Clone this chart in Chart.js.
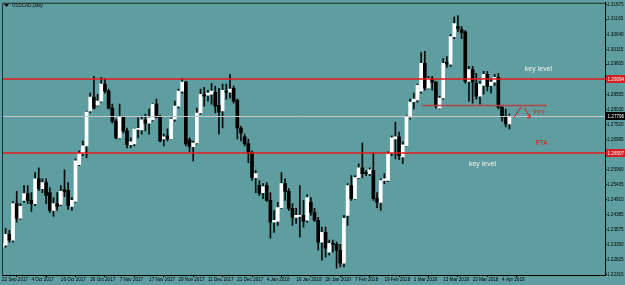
<!DOCTYPE html>
<html>
<head>
<meta charset="utf-8">
<script src="https://cdn.jsdelivr.net/npm/chart.js@4.4.1/dist/chart.umd.min.js"></script>
<style>
  html, body { margin: 0; padding: 0; background: #5f9ea0; }
  #wrap { width: 625px; height: 285px; position: relative; }
</style>
</head>
<body>
<div id="wrap"><canvas id="chart"></canvas></div>
<script>
// USDCAD daily candles, 22 Sep 2017 .. 6 Apr 2018 (one entry per trading day)
const opens = [
  1.2327, 1.2333, 1.2370, 1.2350, 1.2477, 1.2426, 1.2488, 1.2512, 1.2488, 1.2477,
  1.2563, 1.2529, 1.2550, 1.2515, 1.2453, 1.2477, 1.2474, 1.2525, 1.2522, 1.2467,
  1.2484, 1.2612, 1.2650, 1.2677, 1.2798, 1.2846, 1.2818, 1.2832, 1.2891, 1.2867,
  1.2808, 1.2763, 1.2705, 1.2777, 1.2729, 1.2681, 1.2684, 1.2734, 1.2732, 1.2767,
  1.2756, 1.2767, 1.2822, 1.2777, 1.2701, 1.2712, 1.2701, 1.2770, 1.2815, 1.2867,
  1.2898, 1.2698, 1.2674, 1.2687, 1.2791, 1.2856, 1.2853, 1.2856, 1.2863, 1.2818,
  1.2798, 1.2867, 1.2863, 1.2877, 1.2836, 1.2739, 1.2708, 1.2684, 1.2653, 1.2567,
  1.2539, 1.2515, 1.2539, 1.2488, 1.2412, 1.2415, 1.2463, 1.2546, 1.2519, 1.2460,
  1.2429, 1.2432, 1.2436, 1.2419, 1.2481, 1.2446, 1.2419, 1.2343, 1.2377, 1.2308,
  1.2339, 1.2336, 1.2315, 1.2270, 1.2436, 1.2539, 1.2494, 1.2567, 1.2601, 1.2584,
  1.2581, 1.2591, 1.2494, 1.2481, 1.2557, 1.2557, 1.2653, 1.2701, 1.2708, 1.2639,
  1.2677, 1.2777, 1.2830, 1.2836, 1.2867, 1.2963, 1.2877, 1.2911, 1.2898, 1.2808,
  1.2843, 1.2967, 1.2960, 1.3056, 1.3091, 1.3080, 1.3073, 1.2901, 1.2942, 1.2894,
  1.2849, 1.2887, 1.2925, 1.2887, 1.2898, 1.2915, 1.2811, 1.2780, 1.2753
];
const highs = [
  1.2357, 1.2391, 1.2384, 1.2484, 1.2519, 1.2477, 1.2539, 1.2539, 1.2515, 1.2584,
  1.2601, 1.2563, 1.2563, 1.2532, 1.2498, 1.2515, 1.2539, 1.2594, 1.2550, 1.2498,
  1.2632, 1.2660, 1.2694, 1.2798, 1.2860, 1.2918, 1.2856, 1.2915, 1.2911, 1.2874,
  1.2822, 1.2770, 1.2822, 1.2780, 1.2739, 1.2705, 1.2739, 1.2774, 1.2780, 1.2787,
  1.2805, 1.2825, 1.2839, 1.2784, 1.2718, 1.2736, 1.2774, 1.2832, 1.2874, 1.2911,
  1.2901, 1.2705, 1.2694, 1.2808, 1.2874, 1.2880, 1.2870, 1.2894, 1.2884, 1.2877,
  1.2891, 1.2891, 1.2925, 1.2884, 1.2839, 1.2746, 1.2718, 1.2701, 1.2660, 1.2591,
  1.2557, 1.2546, 1.2550, 1.2515, 1.2453, 1.2481, 1.2584, 1.2563, 1.2529, 1.2477,
  1.2460, 1.2539, 1.2488, 1.2508, 1.2498, 1.2460, 1.2429, 1.2395, 1.2395, 1.2350,
  1.2350, 1.2343, 1.2336, 1.2436, 1.2546, 1.2574, 1.2574, 1.2615, 1.2687, 1.2591,
  1.2601, 1.2653, 1.2515, 1.2563, 1.2581, 1.2656, 1.2712, 1.2760, 1.2725, 1.2691,
  1.2784, 1.2839, 1.2860, 1.2891, 1.3001, 1.3005, 1.2918, 1.2918, 1.2901, 1.2849,
  1.2980, 1.2987, 1.3063, 1.3125, 1.3129, 1.3091, 1.3077, 1.2953, 1.2953, 1.2929,
  1.2901, 1.2936, 1.2936, 1.2908, 1.2925, 1.2929, 1.2815, 1.2805, 1.2787
];
const lows = [
  1.2308, 1.2326, 1.2343, 1.2343, 1.2412, 1.2422, 1.2481, 1.2477, 1.2450, 1.2470,
  1.2522, 1.2515, 1.2477, 1.2446, 1.2432, 1.2453, 1.2470, 1.2501, 1.2457, 1.2453,
  1.2481, 1.2608, 1.2643, 1.2636, 1.2791, 1.2805, 1.2815, 1.2829, 1.2860, 1.2805,
  1.2756, 1.2701, 1.2701, 1.2722, 1.2670, 1.2670, 1.2677, 1.2705, 1.2718, 1.2729,
  1.2718, 1.2763, 1.2774, 1.2691, 1.2677, 1.2694, 1.2699, 1.2763, 1.2808, 1.2860,
  1.2677, 1.2656, 1.2625, 1.2684, 1.2787, 1.2815, 1.2832, 1.2822, 1.2791, 1.2718,
  1.2739, 1.2839, 1.2843, 1.2825, 1.2701, 1.2694, 1.2677, 1.2619, 1.2557, 1.2515,
  1.2505, 1.2494, 1.2484, 1.2357, 1.2377, 1.2401, 1.2460, 1.2488, 1.2453, 1.2401,
  1.2408, 1.2360, 1.2395, 1.2412, 1.2436, 1.2415, 1.2315, 1.2281, 1.2291, 1.2298,
  1.2308, 1.2253, 1.2257, 1.2257, 1.2401, 1.2488, 1.2491, 1.2563, 1.2567, 1.2574,
  1.2574, 1.2488, 1.2463, 1.2453, 1.2546, 1.2553, 1.2643, 1.2632, 1.2629, 1.2615,
  1.2674, 1.2770, 1.2805, 1.2829, 1.2860, 1.2870, 1.2874, 1.2870, 1.2808, 1.2805,
  1.2839, 1.2949, 1.2953, 1.3049, 1.3073, 1.3049, 1.2894, 1.2832, 1.2825, 1.2839,
  1.2822, 1.2856, 1.2867, 1.2860, 1.2887, 1.2805, 1.2763, 1.2743, 1.2736
];
const closes = [
  1.2338, 1.2370, 1.2350, 1.2477, 1.2426, 1.2467, 1.2512, 1.2488, 1.2477, 1.2563,
  1.2529, 1.2550, 1.2505, 1.2453, 1.2477, 1.2467, 1.2519, 1.2519, 1.2470, 1.2488,
  1.2625, 1.2650, 1.2677, 1.2794, 1.2846, 1.2808, 1.2832, 1.2891, 1.2867, 1.2808,
  1.2763, 1.2705, 1.2777, 1.2729, 1.2681, 1.2691, 1.2736, 1.2736, 1.2767, 1.2756,
  1.2774, 1.2822, 1.2777, 1.2694, 1.2708, 1.2701, 1.2770, 1.2815, 1.2867, 1.2898,
  1.2684, 1.2674, 1.2687, 1.2791, 1.2856, 1.2849, 1.2860, 1.2867, 1.2815, 1.2794,
  1.2870, 1.2863, 1.2874, 1.2832, 1.2739, 1.2722, 1.2684, 1.2653, 1.2567, 1.2581,
  1.2512, 1.2536, 1.2488, 1.2412, 1.2419, 1.2463, 1.2546, 1.2519, 1.2460, 1.2429,
  1.2436, 1.2436, 1.2415, 1.2498, 1.2446, 1.2419, 1.2343, 1.2377, 1.2322, 1.2339,
  1.2336, 1.2315, 1.2270, 1.2426, 1.2539, 1.2494, 1.2567, 1.2601, 1.2581, 1.2581,
  1.2594, 1.2494, 1.2481, 1.2557, 1.2563, 1.2650, 1.2705, 1.2708, 1.2643, 1.2681,
  1.2780, 1.2829, 1.2839, 1.2887, 1.2963, 1.2877, 1.2911, 1.2898, 1.2815, 1.2843,
  1.2963, 1.2960, 1.3056, 1.3101, 1.3084, 1.3070, 1.2901, 1.2942, 1.2898, 1.2849,
  1.2891, 1.2925, 1.2884, 1.2898, 1.2915, 1.2811, 1.2777, 1.2753, 1.2780
];

// dates printed under every 8th bar
const dateLabels = [
  '22 Sep 2017', '4 Oct 2017', '16 Oct 2017', '26 Oct 2017', '7 Nov 2017', '17 Nov 2017',
  '29 Nov 2017', '11 Dec 2017', '21 Dec 2017', '4 Jan 2018', '16 Jan 2018', '26 Jan 2018',
  '7 Feb 2018', '19 Feb 2018', '1 Mar 2018', '13 Mar 2018', '23 Mar 2018', '4 Apr 2018'
];
const priceTicks = [
  1.31675, 1.31165, 1.30640, 1.30115, 1.29605, 1.28555, 1.28030, 1.27520, 1.26995,
  1.25960, 1.25435, 1.24910, 1.24385, 1.23875, 1.23350, 1.22825, 1.22315
];

// drawn objects from the terminal
const keyLevels = [1.29094, 1.26507];
const lastPrice = 1.27796;
const neckline = { from: 114.2, to: 148.2, price: 1.2817 };
const arrowUp = [[139.2, 1.2775], [141.2, 1.2812]];
const arrowDown = [[142.2, 1.2808], [143.6, 1.2775]];
const notes = [
  { text: 'key level', x: 142.2, y: 1.2942, color: '#f2f2f2', size: 7 },
  { text: 'key level', x: 127.0, y: 1.2615, color: '#f2f2f2', size: 7 },
  { text: 'FTA', x: 145.2, y: 1.2688, color: '#e01010', size: 6.5 },
  { text: '???', x: 144.2, y: 1.2791, color: '#e01010', size: 7.5 }
];

const SLOTS = 165;           // bars plus the empty shift on the right
const Y_MIN = 1.22292, Y_MAX = 1.31734;
const FONT = 'Liberation Sans, Arial, sans-serif';
const AXIS_PX = 4.6;

const labels = [];
for (let i = 0; i < SLOTS; i++) {
  labels.push(i % 8 === 0 && dateLabels[i / 8] ? dateLabels[i / 8] : '');
}

function hline(ctx, a, p, color, width) {
  ctx.strokeStyle = color;
  ctx.lineWidth = width;
  ctx.beginPath();
  ctx.moveTo(a.left, p);
  ctx.lineTo(a.right, p);
  ctx.stroke();
}

const overlay = {
  id: 'overlay',
  afterDatasetsDraw(chart) {
    const { ctx, chartArea: a, scales: { x, y } } = chart;
    ctx.save();
    ctx.beginPath();
    ctx.rect(a.left, a.top, a.right - a.left, a.bottom - a.top);
    ctx.clip();

    // bid line + key levels
    hline(ctx, a, Math.round(y.getPixelForValue(lastPrice)) + 0.5, '#c8c8c8', 1);
    keyLevels.forEach(v => hline(ctx, a, Math.round(y.getPixelForValue(v)), '#e81818', 1.5));

    // neckline
    ctx.strokeStyle = '#b84242';
    ctx.lineWidth = 1.5;
    ctx.beginPath();
    ctx.moveTo(x.getPixelForValue(neckline.from), y.getPixelForValue(neckline.price));
    ctx.lineTo(x.getPixelForValue(neckline.to), y.getPixelForValue(neckline.price));
    ctx.stroke();

    // hand drawn arrows
    ctx.strokeStyle = '#e01010';
    ctx.lineWidth = 1;
    [arrowUp, arrowDown].forEach(seg => {
      ctx.beginPath();
      ctx.moveTo(x.getPixelForValue(seg[0][0]), y.getPixelForValue(seg[0][1]));
      ctx.lineTo(x.getPixelForValue(seg[1][0]), y.getPixelForValue(seg[1][1]));
      ctx.stroke();
    });
    const hx = x.getPixelForValue(arrowDown[1][0]);
    const hy = y.getPixelForValue(arrowDown[1][1]);
    ctx.beginPath();
    ctx.moveTo(hx - 3, hy);
    ctx.lineTo(hx, hy);
    ctx.lineTo(hx, hy - 3);
    ctx.stroke();

    // text notes
    ctx.textAlign = 'left';
    ctx.textBaseline = 'middle';
    notes.forEach(n => {
      ctx.font = n.size + 'px ' + FONT;
      ctx.fillStyle = n.color;
      ctx.fillText(n.text, x.getPixelForValue(n.x), y.getPixelForValue(n.y));
    });
    ctx.restore();
  },
  afterDraw(chart) {
    const { ctx, chartArea: a, scales: { y } } = chart;
    ctx.save();
    // frame
    ctx.strokeStyle = '#1c2e2e';
    ctx.lineWidth = 1;
    ctx.beginPath();
    ctx.moveTo(a.left + 0.5, a.bottom);
    ctx.lineTo(a.left + 0.5, a.top + 0.5);
    ctx.lineTo(a.right, a.top + 0.5);
    ctx.stroke();

    // price boxes on the axis
    ctx.font = AXIS_PX + 'px ' + FONT;
    ctx.textBaseline = 'middle';
    ctx.textAlign = 'left';
    const boxes = [
      { v: keyLevels[0], bg: '#d42020' },
      { v: lastPrice, bg: '#000000' },
      { v: keyLevels[1], bg: '#d42020' }
    ];
    boxes.forEach(b => {
      const p = Math.round(y.getPixelForValue(b.v));
      ctx.fillStyle = b.bg;
      ctx.fillRect(a.right + 1, p - 4, 19, 8);
      ctx.fillStyle = '#ffffff';
      ctx.fillText(b.v.toFixed(5), a.right + 2.5, p + 0.5);
    });

    // title
    ctx.fillStyle = '#000';
    ctx.beginPath();
    ctx.moveTo(4, 4);
    ctx.lineTo(9, 4);
    ctx.lineTo(6.5, 7);
    ctx.closePath();
    ctx.fill();
    ctx.font = AXIS_PX + 'px ' + FONT;
    ctx.fillStyle = '#101010';
    ctx.fillText('USDCAD,Daily', 12, 5.5);
    ctx.restore();
  }
};

new Chart(document.getElementById('chart'), {
  type: 'bar',
  data: {
    labels: labels,
    datasets: [
      {
        label: 'wicks',
        data: highs.map((h, i) => [lows[i], h]),
        backgroundColor: '#0a0a0a',
        barThickness: 1,
        grouped: false,
        order: 2
      },
      {
        label: 'bodies',
        data: opens.map((o, i) => [o, closes[i]]),
        backgroundColor: opens.map((o, i) => closes[i] >= o ? '#ffffff' : '#000000'),
        borderWidth: 0,
        barThickness: 3,
        minBarLength: 1,
        grouped: false,
        order: 1
      }
    ]
  },
  options: {
    responsive: true,
    maintainAspectRatio: false,
    animation: false,
    layout: { padding: { left: 2, top: 1, right: 0, bottom: 0 } },
    plugins: {
      legend: { display: false },
      tooltip: { enabled: false }
    },
    scales: {
      x: {
        type: 'category',
        offset: false,
        afterBuildTicks: s => { s.ticks = s.ticks.filter(t => labels[t.value] !== ''); },
        afterFit: s => { s.height = 10; },
        grid: { drawOnChartArea: false, tickLength: 2, color: '#000' },
        border: { display: true, color: '#000' },
        ticks: {
          autoSkip: false,
          maxRotation: 0,
          align: 'start',
          padding: 0,
          color: '#000',
          font: { family: FONT, size: AXIS_PX },
          callback: v => labels[v]
        }
      },
      y: {
        position: 'right',
        min: Y_MIN,
        max: Y_MAX,
        afterBuildTicks: s => { s.ticks = priceTicks.map(v => ({ value: v })); },
        afterFit: s => { s.width = 20; },
        grid: { drawOnChartArea: false, tickLength: 2, color: '#000' },
        border: { display: true, color: '#000' },
        ticks: {
          padding: 0,
          color: '#000',
          font: { family: FONT, size: AXIS_PX },
          callback: v => v.toFixed(5)
        }
      }
    }
  },
  plugins: [overlay]
});
</script>
</body>
</html>
